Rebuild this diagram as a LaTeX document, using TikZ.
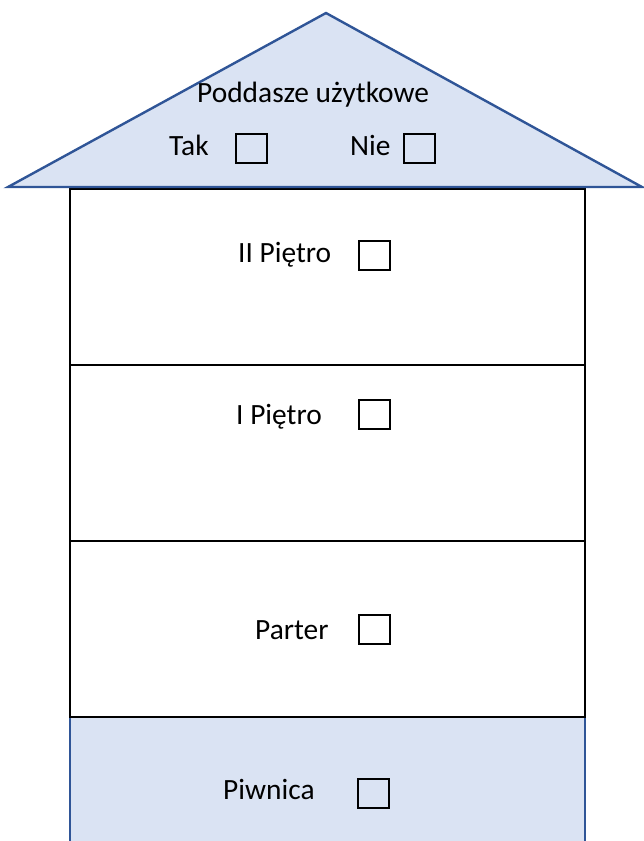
\documentclass[tikz,border=0pt]{standalone}
\usepackage{fontspec}
\setmainfont{Carlito}
\usetikzlibrary{positioning}
\definecolor{dachfill}{HTML}{DAE3F3}
\definecolor{dachline}{HTML}{2F5597}
\tikzset{
  pietro/.style={draw=black, line width=2pt},
  kratka/.style={draw=black, line width=2pt, minimum width=31pt, minimum height=29pt, inner sep=0pt},
  napis/.style={anchor=base west, inner sep=0pt, font=\fontsize{29.4}{34}\selectfont}
}
\begin{document}
\begin{tikzpicture}[x=1pt, y=-1pt]
			%%%%% START %%%%%
			\useasboundingbox (0, 0) rectangle (643, 841);
			
			% piwnica
			\fill[dachfill] (70, 717) rectangle (585, 841);
			\draw[line width=2pt, color=dachline] (70, 841) -- (70, 717) -- (585, 717) -- (585, 841);
			
			% pietra
			\draw[pietro] (70, 541) rectangle (585, 717);
			\draw[pietro] (70, 365) rectangle (585, 541);
			\draw[pietro] (70, 189) rectangle (585, 365);
			
			% dach
			\draw[line width=2.4pt, color=dachline, fill=dachfill, line join=miter] (8, 187) -- (326, 13) -- (642, 187) -- cycle;
			
			\node[napis] (poddasze) at (197, 102) {Poddasze użytkowe};
			\node[napis] (tak) at (169, 155) {Tak};
			\node[kratka] (takbox) at (251, 148) {};
			\node[napis] (nie) at (350, 155) {Nie};
			\node[kratka] (niebox) at (419.5, 148) {};
			
			\node[napis] (drugie) at (238, 262) {II Piętro};
			\node[kratka] (drugiebox) at (374.5, 255.5) {};
			
			\node[napis] (pierwsze) at (236, 424) {I Piętro};
			\node[kratka] (pierwszebox) at (374, 414) {};
			
			\node[napis] (parter) at (255, 639) {Parter};
			\node[kratka] (parterbox) at (374, 629.5) {};
			
			\node[napis] (piwnica) at (223, 799) {Piwnica};
			\node[kratka] (piwnicabox) at (373.5, 793) {};
			
			%%%%% END %%%%%
\end{tikzpicture}
\end{document}
